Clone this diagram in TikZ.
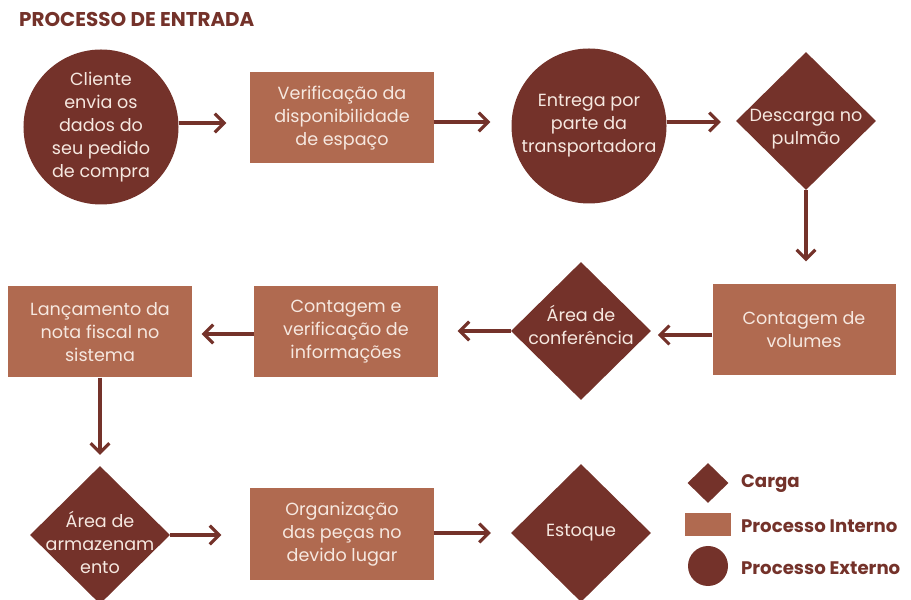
\documentclass[tikz,border=0pt]{standalone}
\usepackage{fontspec}
\setmainfont{Poppins}
\usetikzlibrary{shapes.geometric,arrows.meta}
\definecolor{darkbrown}{RGB}{116,50,42}
\definecolor{lightbrown}{RGB}{176,106,80}
\definecolor{cream}{RGB}{246,232,224}

\begin{document}
\begin{tikzpicture}[x=0.03cm, y=-0.03cm,
                    ext node/.style={circle,fill=darkbrown,text=cream,minimum size=4.65cm,inner sep=0pt,
                                     align=center,font=\fontsize{15}{19.6}\selectfont},
                    int node/.style={rectangle,fill=lightbrown,text=cream,minimum width=5.49cm,minimum height=2.73cm,
                                     inner sep=0pt,align=center,font=\fontsize{15}{19.6}\selectfont},
                    load node/.style={diamond,fill=darkbrown,minimum width=4.2cm,minimum height=4.14cm,inner sep=0pt},
                    load text/.style={text=cream,align=center,font=\fontsize{15}{19.6}\selectfont},
                    flow/.style={darkbrown,line width=2.6pt,-{Straight Barb[length=8pt,width=16pt]}},
                    key text/.style={anchor=west,text=darkbrown,font=\fontsize{15.5}{18}\selectfont\bfseries}]

\useasboundingbox (0,0) rectangle (911,600);

\node[anchor=west,text=darkbrown,font=\fontsize{17}{19}\selectfont\bfseries] (title) at (15,19) {PROCESSO DE ENTRADA};

% first row
\node[ext node] (cliente) at (101,127) {Cliente\\envia os\\dados do\\seu pedido\\de compra};
\node[int node] (verif) at (342,118) {Verificação da\\disponibilidade\\de espaço};
\node[ext node] (entrega) at (589,126) {Entrega por\\parte da\\transportadora};
\node[load node, label={[load text,yshift=-0.24cm]center:Descarga no\\pulmão}] (descarga) at (806,121) {};

% second row
\node[int node] (volumes) at (804,330) {Contagem de\\volumes};
\node[load node, label={[load text,yshift=0.18cm]center:Área de\\conferência}] (conferencia) at (581,331) {};
\node[int node] (contagem) at (346,332) {Contagem e\\verificação de\\informações};
\node[int node] (nota) at (100,332) {Lançamento da\\nota fiscal no\\sistema};

% third row
\node[load node, label={[load text,yshift=-0.21cm]center:Área de\\armazenam\\ento}] (armazem) at (100,535) {};
\node[int node] (organiza) at (342,534) {Organização\\das peças no\\devido lugar};
\node[load node, label={[load text]center:Estoque}] (estoque) at (581,533) {};

% legend
\node[diamond,fill=darkbrown,minimum width=1.23cm,minimum height=1.2cm,inner sep=0pt] (keyload) at (708,483) {};
\node[rectangle,fill=lightbrown,minimum width=1.38cm,minimum height=0.69cm,inner sep=0pt] (keyint) at (708,525) {};
\node[circle,fill=darkbrown,minimum size=1.2cm,inner sep=0pt] (keyext) at (708,566) {};
\node[key text] (keyloadtxt) at (737,484) {Carga};
\node[key text] (keyinttxt) at (737,526) {Processo Interno};
\node[key text] (keyexttxt) at (737,568) {Processo Externo};

% arrows
\draw[flow,shorten >=0.72cm] (cliente.east |- 0,123) -- (verif.west |- 0,123);
\draw[flow,shorten >=0.63cm] (verif.east |- 0,122) -- (entrega.west |- 0,122);
\draw[flow,shorten >=0.45cm] (entrega.east |- 0,122) -- (descarga.west |- 0,122);
\draw[flow,shorten >=0.69cm] (descarga.south) -- (volumes.north -| descarga.south);
\draw[flow,shorten >=0.2cm] (volumes.west |- 0,335) -- (conferencia.east |- 0,335);
\draw[flow,shorten >=0.6cm] (conferencia.west) -- (contagem.east |- conferencia.west);
\draw[flow,shorten >=0.3cm] (contagem.west |- 0,334) -- (nota.east |- 0,334);
\draw[flow,shorten >=0.33cm] (nota.south) -- (armazem.north);
\draw[flow,shorten >=0.87cm] (armazem.east) -- (organiza.west |- armazem.east);
\draw[flow,shorten >=0.6cm] (organiza.east |- 0,533) -- (estoque.west |- 0,533);

\end{tikzpicture}
\end{document}
